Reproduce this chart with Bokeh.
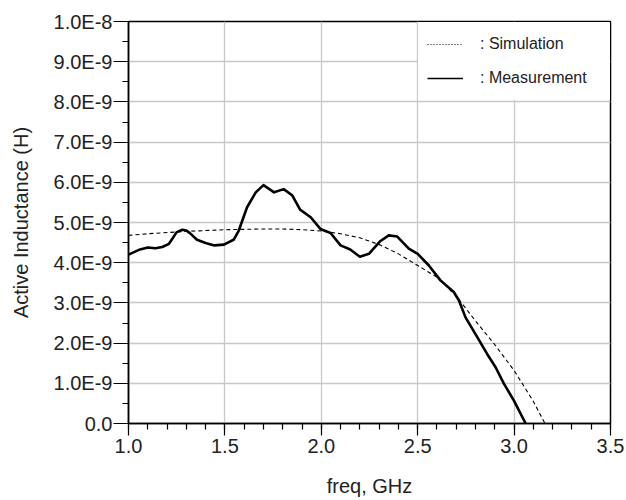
from bokeh.plotting import figure
from bokeh.models import (FixedTicker, Range1d, Legend, LegendItem,
                          NumeralTickFormatter)
from bokeh.embed import file_html
from bokeh.resources import INLINE

# ---- data (frequency in GHz, inductance in units of 1E-9 H) ----
meas_f = [1.0, 1.06, 1.10, 1.14, 1.175, 1.21, 1.25, 1.28, 1.30, 1.32,
          1.355, 1.40, 1.445, 1.495, 1.545, 1.572, 1.615, 1.66, 1.70, 1.725,
          1.755, 1.805, 1.85, 1.89, 1.945, 1.995, 2.048, 2.10, 2.15, 2.20,
          2.247, 2.307, 2.35, 2.394, 2.454, 2.50, 2.558, 2.618, 2.687, 2.714,
          2.748, 2.809, 2.86, 2.904, 2.947, 2.999, 3.06]
meas_L = [4.20, 4.33, 4.38, 4.36, 4.39, 4.47, 4.76, 4.82, 4.80, 4.73,
          4.57, 4.49, 4.43, 4.45, 4.57, 4.80, 5.38, 5.75, 5.93, 5.85,
          5.75, 5.83, 5.67, 5.32, 5.13, 4.84, 4.74, 4.43, 4.33, 4.15,
          4.22, 4.54, 4.68, 4.65, 4.35, 4.22, 3.93, 3.56, 3.27, 3.06,
          2.64, 2.15, 1.73, 1.40, 0.99, 0.57, 0.0]

sim_f = [1.0, 1.1, 1.2, 1.3, 1.4, 1.5, 1.6, 1.7, 1.8, 1.9,
         2.0, 2.1, 2.2, 2.3, 2.4, 2.5, 2.6, 2.7, 2.8, 2.9,
         3.0, 3.1, 3.16]
sim_L = [4.68, 4.72, 4.75, 4.78, 4.80, 4.82, 4.83, 4.84, 4.84, 4.82,
         4.79, 4.72, 4.62, 4.45, 4.22, 3.93, 3.64, 3.17, 2.55, 1.96,
         1.32, 0.55, 0.0]

x_ticks = [1.0, 1.5, 2.0, 2.5, 3.0, 3.5]
y_ticks = [0, 1, 2, 3, 4, 5, 6, 7, 8, 9, 10]
y_tick_labels = ["0.0", "1.0E-9", "2.0E-9", "3.0E-9", "4.0E-9", "5.0E-9",
                 "6.0E-9", "7.0E-9", "8.0E-9", "9.0E-9", "1.0E-8"]
legend_labels = [": Simulation", ": Measurement"]
x_label = "freq, GHz"
y_label = "Active Inductance (H)"

X_START, X_END = 1.0, 3.5
Y_START, Y_END = 0, 10

FONT = "Liberation Sans"
TXT = "#222222"

p = figure(frame_width=482, frame_height=402,
           min_border_left=128, min_border_right=16,
           min_border_top=21, min_border_bottom=69,
           x_range=Range1d(X_START, X_END), y_range=Range1d(Y_START, Y_END),
           output_backend="svg", toolbar_location=None)

p.background_fill_color = "white"
p.border_fill_color = "white"
p.outline_line_color = "black"
p.outline_line_width = 1.5

# ticks
x_minor = [round(1.0 + 0.1 * i, 2) for i in range(26)]
p.xaxis.ticker = FixedTicker(ticks=x_ticks, minor_ticks=x_minor)
p.yaxis.ticker = FixedTicker(ticks=y_ticks, minor_ticks=[t + 0.5 for t in y_ticks[:-1]])
p.xaxis.formatter = NumeralTickFormatter(format="0.0")
p.yaxis.major_label_overrides = {t: s for t, s in zip(y_ticks, y_tick_labels)}

for ax in (p.xaxis, p.yaxis):
    ax.axis_line_color = "black"
    ax.axis_line_width = 1.5
    ax.major_tick_line_color = "black"
    ax.minor_tick_line_color = "black"
    ax.major_tick_line_width = 1.2
    ax.minor_tick_line_width = 1.2
    ax.major_tick_in = 0
    ax.minor_tick_in = 0
    ax.major_label_text_font = FONT
    ax.major_label_text_font_size = "20px"
    ax.major_label_text_color = TXT
    ax.axis_label_text_font = FONT
    ax.axis_label_text_font_size = "20px"
    ax.axis_label_text_font_style = "normal"
    ax.axis_label_text_color = TXT

p.xaxis.major_tick_out = 12
p.xaxis.minor_tick_out = 6
p.xaxis.major_label_standoff = 3
p.xaxis.axis_label = x_label
p.xaxis.axis_label_standoff = 19

p.yaxis.major_tick_out = 15
p.yaxis.minor_tick_out = 6
p.yaxis.major_label_standoff = 1
p.yaxis.axis_label = y_label
p.yaxis.axis_label_standoff = 19

# grid
p.xgrid.ticker = FixedTicker(ticks=x_ticks)
p.ygrid.ticker = FixedTicker(ticks=y_ticks)
for g in (p.xgrid, p.ygrid):
    g.grid_line_color = "#c8c8c8"
    g.grid_line_width = 1.3

# curves
p.line(sim_f, sim_L, line_color="black", line_width=1.1, line_dash="4 3")
p.line(meas_f, meas_L, line_color="black", line_width=2.6, line_join="round")

# legend glyph renderers (no visible data)
nan = float("nan")
leg_sim = p.line([nan], [nan], line_color="black", line_width=1, line_dash="1 2")
leg_meas = p.line([nan], [nan], line_color="black", line_width=1.5)

# white legend box filling the top-right grid cell
legend = Legend(items=[LegendItem(label=legend_labels[0], renderers=[leg_sim]),
                       LegendItem(label=legend_labels[1], renderers=[leg_meas])],
                location=(290, 323), orientation="vertical",
                background_fill_color="white", background_fill_alpha=1.0,
                border_line_alpha=0,
                padding=9, margin=0, spacing=8,
                glyph_width=36, glyph_height=26, label_height=26,
                label_standoff=17, label_width=121,
                label_text_font=FONT, label_text_font_size="16px",
                label_text_color=TXT)
p.add_layout(legend)

open("out.html", "w").write(file_html(p, INLINE))
